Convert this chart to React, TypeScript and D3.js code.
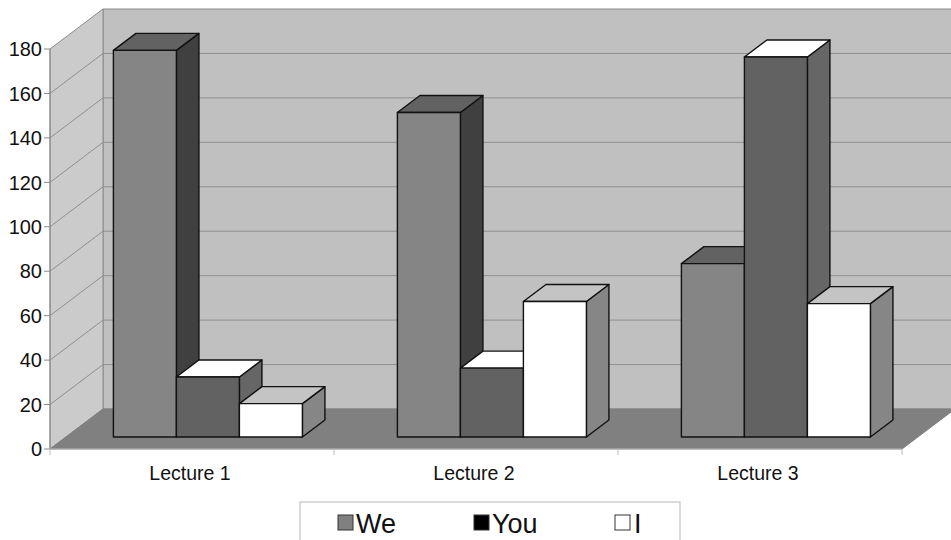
import React from "react";
import * as d3 from "d3";

const categories = ["Lecture 1", "Lecture 2", "Lecture 3"];
const seriesNames = ["We", "You", "I"];
const weValues = [174, 146, 78];
const youValues = [27, 31, 171];
const iValues = [15, 61, 60];
const yTicks = [0, 20, 40, 60, 80, 100, 120, 140, 160, 180];

const W = 951;
const H = 540;
const frontLeft = 50;
const frontRight = 902;
const baseY = 449;
const depthDX = 53;
const depthDY = -40;
const plotH = 400;
const dFront = 0.3;
const dBack = 0.725;

const faceColors: Record<string, { front: string; top: string; side: string }> = {
  We: { front: "#858585", top: "#626262", side: "#404040" },
  You: { front: "#626262", top: "#ffffff", side: "#666666" },
  I: { front: "#ffffff", top: "#c4c4c4", side: "#868686" },
};
const legendColors: Record<string, string> = { We: "#808080", You: "#000000", I: "#ffffff" };

export default function App() {
  const y = d3.scaleLinear().domain([0, 180]).range([0, plotH]);
  const x0 = d3.scaleBand<string>().domain(categories).range([frontLeft, frontRight]).paddingInner(0).paddingOuter(0);
  const x1 = d3.scaleBand<string>().domain(seriesNames).range([0, x0.bandwidth()]).paddingInner(0).paddingOuter(0.754);
  const values: Record<string, number[]> = { We: weValues, You: youValues, I: iValues };

  const P = (xf: number, v: number, d: number): [number, number] => [xf + d * depthDX, baseY - y(v) + d * depthDY];
  const poly = (pts: [number, number][]) => pts.map((p) => p.join(",")).join(" ");

  const topV = 180;

  const bars: JSX.Element[] = [];
  categories.forEach((c, ci) => {
    seriesNames.forEach((s) => {
      const v = values[s][ci];
      const xl = (x0(c) as number) + (x1(s) as number);
      const xr = xl + x1.bandwidth();
      const col = faceColors[s];
      const side = [P(xr, 0, dFront), P(xr, 0, dBack), P(xr, v, dBack), P(xr, v, dFront)];
      const top = [P(xl, v, dFront), P(xl, v, dBack), P(xr, v, dBack), P(xr, v, dFront)];
      const front = [P(xl, 0, dFront), P(xr, 0, dFront), P(xr, v, dFront), P(xl, v, dFront)];
      bars.push(
        <g key={c + s} stroke="#111" strokeWidth={1.4} strokeLinejoin="round">
          <polygon points={poly(side)} fill={col.side} />
          <polygon points={poly(top)} fill={col.top} />
          <polygon points={poly(front)} fill={col.front} />
        </g>
      );
    });
  });

  const legendItems = [
    { name: "We", sx: 338, tx: 356 },
    { name: "You", sx: 474, tx: 492 },
    { name: "I", sx: 615, tx: 634 },
  ];

  return (
    <svg width={W} height={H} style={{ position: "absolute", left: 0, top: 0, background: "#fff" }} fontFamily="Liberation Sans, Arial, sans-serif">
      <polygon
        points={poly([P(frontLeft, topV, 1), P(frontRight, topV, 1), P(frontRight, 0, 1), P(frontLeft, 0, 1)])}
        fill="#c0c0c0"
        stroke="#8a8a8a"
        strokeWidth={1}
      />
      <polygon
        points={poly([P(frontLeft, 0, 0), P(frontLeft, topV, 0), P(frontLeft, topV, 1), P(frontLeft, 0, 1)])}
        fill="#cbcbcb"
        stroke="#8a8a8a"
        strokeWidth={1}
      />
      {yTicks.filter((t) => t > 0 && t < 180).map((t) => (
        <g key={t} stroke="#8f8f8f" strokeWidth={1}>
          <line x1={P(frontLeft, t, 0)[0]} y1={P(frontLeft, t, 0)[1]} x2={P(frontLeft, t, 1)[0]} y2={P(frontLeft, t, 1)[1]} />
          <line x1={P(frontLeft, t, 1)[0]} y1={P(frontLeft, t, 1)[1]} x2={P(frontRight, t, 1)[0]} y2={P(frontRight, t, 1)[1]} />
        </g>
      ))}
      <polygon
        points={poly([P(frontLeft, 0, 0), P(frontLeft, 0, 1), P(frontRight, 0, 1), P(frontRight, 0, 0)])}
        fill="#808080"
        stroke="#808080"
        strokeWidth={1}
      />
      <line x1={frontLeft} y1={baseY} x2={frontLeft} y2={baseY - plotH} stroke="#8a8a8a" strokeWidth={1} />
      <line x1={frontLeft} y1={baseY} x2={frontRight} y2={baseY} stroke="#bdbdbd" strokeWidth={1} />
      {yTicks.map((t) => (
        <g key={"yt" + t}>
          <line x1={frontLeft - 6} x2={frontLeft} y1={baseY - y(t)} y2={baseY - y(t)} stroke="#8a8a8a" />
          <text x={frontLeft - 8} y={baseY - y(t)} dy="0.36em" textAnchor="end" fontSize={20} fill="#111">
            {t}
          </text>
        </g>
      ))}
      {[frontLeft, ...categories.map((c) => (x0(c) as number) + x0.bandwidth())].map((xv, i) => (
        <line key={"ct" + i} x1={xv} x2={xv} y1={baseY} y2={baseY + 6} stroke="#bdbdbd" />
      ))}
      {categories.map((c) => (
        <text key={"cl" + c} x={(x0(c) as number) + x0.bandwidth() / 2 - 2} y={480} textAnchor="middle" fontSize={19.5} fill="#111">
          {c}
        </text>
      ))}
      {bars}
      <rect x={300} y={502} width={380} height={50} fill="#fff" stroke="#cfcfcf" strokeWidth={1.5} />
      {legendItems.map((it) => (
        <g key={it.name}>
          <rect x={it.sx} y={515} width={15} height={15} fill={legendColors[it.name]} stroke="#333" strokeWidth={1} />
          <text x={it.tx} y={533} fontSize={27} fill="#111">
            {it.name}
          </text>
        </g>
      ))}
    </svg>
  );
}
